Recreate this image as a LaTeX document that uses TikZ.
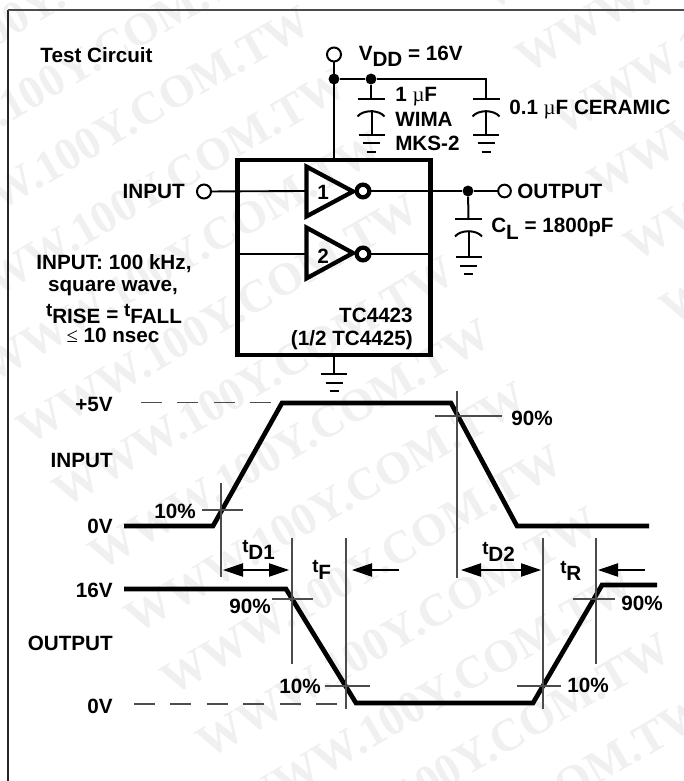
\documentclass[tikz,border=0pt]{standalone}
\usepackage{fontspec}
\setmainfont{Liberation Sans}
\newfontfamily\mufont{Liberation Serif}
\newfontfamily\wmfont{Liberation Serif}[BoldFont={Liberation Serif Bold}]
\usetikzlibrary{arrows.meta}
\newcommand{\smt}{\raisebox{5pt}{\fontsize{14pt}{16pt}\selectfont t}}
\newcommand{\upb}[1]{\raisebox{4.8pt}{#1}}
\tikzset{
  x=0.75pt,y=-0.75pt,
  txt/.style={inner sep=0pt,font=\fontsize{15.5pt}{17pt}\selectfont\bfseries,text=black},
  wire/.style={line width=1.5pt,black},
  thinwire/.style={line width=1.4pt,black},
  trace/.style={line width=3.5pt,black,line join=miter,line cap=butt},
  chipbox/.style={draw=black,line width=3.4pt,fill=none,minimum width=144.4pt,minimum height=146.2pt,inner sep=0pt,outer sep=0pt},
  invtri/.style={line width=3.2pt,black,line join=miter,miter limit=10},
  bubble/.style={circle,draw=black,line width=3.2pt,fill=white,minimum size=9.5pt,inner sep=0pt,outer sep=0pt},
  term/.style={circle,draw=black,line width=1.5pt,fill=white,minimum size=10.5pt,inner sep=0pt,outer sep=0pt},
  termsm/.style={term,minimum size=9.5pt},
  jn/.style={circle,fill=black,minimum size=8.2pt,inner sep=0pt},
  refln/.style={line width=0.8pt,black!70},
  dashln/.style={line width=0.8pt,black!70,dash pattern=on 15.75pt off 11.6pt},
  dimboth/.style={line width=0.8pt,black,{Triangle[length=15pt,width=10pt]}-{Triangle[length=15pt,width=10pt]}},
  dimone/.style={line width=0.8pt,black,-{Triangle[length=15pt,width=10pt]}},
  wmark/.style={inner sep=0pt,anchor=base west,rotate=30,text=black!6,font=\wmfont\fontsize{34.5pt}{36pt}\selectfont\bfseries},
  pics/capsym/.style={code={
    \draw[wire] (-13.5,0) -- (13.5,0);
    \draw[wire] (-13.5,17.5) .. controls (-8,10.5) and (8,10.5) .. (13.5,17.5);
  }},
  pics/gndsym/.style={code={
    \draw[wire] (-13,0) -- (13,0);
    \draw[wire] (-8.5,8.5) -- (8.5,8.5);
    \draw[line width=2.2pt] (-4.5,17) -- (4.5,17);
  }},
}
\begin{document}
\begin{tikzpicture}
\useasboundingbox (0,0) rectangle (684,781);
% watermark
\begin{scope}
\clip (0,0) rectangle (684,781);
\foreach \k in {-2,...,12}{
  \node[wmark,name=wma\k] at ({-80+36*\k},{258+62.7*\k}) {WWW.100Y.COM.TW};
}
\foreach \k in {1,...,6}{
  \node[wmark,name=wmb\k] at ({455+36*\k},{-51+62.7*\k}) {WWW.100Y.COM.TW};
}
\end{scope}
% frame
\coordinate (frameA) at (8,781);
\coordinate (frameB) at (8,10);
\coordinate (frameC) at (684,10);
\draw[line width=1pt,black!85] (frameA) -- (frameB);
\draw[line width=1.5pt,black!70] (frameB) -- (frameC);

% chip and inverters
\node[chipbox] (chip) at (334,257.5) {};
\coordinate (t1a) at (306.5,166.6); \coordinate (t1b) at (353,191.5); \coordinate (t1c) at (306.5,216.4);
\coordinate (t2a) at (306.5,227.6); \coordinate (t2b) at (353,253); \coordinate (t2c) at (306.5,278.4);
\coordinate (in1) at (306.5,191); \coordinate (in2) at (306.5,254);
\draw[invtri] (t1a) -- (t1b) -- (t1c) -- cycle;
\draw[invtri] (t2a) -- (t2b) -- (t2c) -- cycle;
\node[bubble] (b1) at (363,191) {};
\node[bubble] (b2) at (363,254) {};
\node[txt] (n1) at (323,192) {1};
\node[txt] (n2) at (323,256) {2};

% terminals
\node[term] (vdd) at (334,54.5) {};
\node[term] (input) at (204,191.5) {};
\node[termsm] (output) at (504.5,191) {};
\node[jn] (j1) at (334,79) {};
\node[jn] (j2) at (371,79) {};
\node[jn] (j3) at (468,191) {};
\coordinate (c2top) at (486,79);
\coordinate (c1p) at (371,99); \coordinate (c2p) at (486,99); \coordinate (c3p) at (468.5,219);
\coordinate (c1s) at (371.5,110.5); \coordinate (c2s) at (486,110.5); \coordinate (c3s) at (468.5,230.5);
\coordinate (g1) at (371.5,135); \coordinate (g2) at (486,135); \coordinate (g3) at (468.5,257);
\coordinate (g4) at (334,374);

\draw[wire] (vdd) -- (chip.north -| vdd);
\draw[wire] (j1) -- (j2) -- (c2top) -- (c2p);
\draw[wire] (j2) -- (c1p);
\draw[wire] (c1s) -- (g1);
\draw[wire] (c2s) -- (g2);
\draw[wire] (j3) -- (c3p);
\draw[wire] (c3s) -- (g3);
\draw[wire] (chip.south -| g4) -- (g4);
\pic (cap1) at (c1p) {capsym};
\pic (cap2) at (c2p) {capsym};
\pic (cap3) at (c3p) {capsym};
\pic (gnd1) at (g1) {gndsym};
\pic (gnd2) at (g2) {gndsym};
\pic (gnd3) at (g3) {gndsym};
\pic (gnd4) at (g4) {gndsym};
\draw[thinwire] (input) -- (in1);
\draw[thinwire] (b1) -- (j3) -- (output);
\draw[thinwire] (chip.west |- in2) -- (in2);
\draw[thinwire] (b2) -- (chip.east |- b2);

% circuit labels
\node[txt] (ltest) at (96.5,55) {Test Circuit};
\node[txt,anchor=base west] (lvdd) at (358.5,66.7) {\upb{V}DD\upb{ = 16V}};
\node[txt,anchor=west] (lc1a) at (395,97) {1 {\mufont\mdseries µ}F};
\node[txt,anchor=west] (lc1b) at (395,119) {WIMA};
\node[txt,anchor=west] (lc1c) at (395,143) {MKS-2};
\node[txt,anchor=west] (lc2) at (509,109) {0.1 {\mufont\mdseries µ}F CERAMIC};
\node[txt,anchor=east] (linput) at (185,191) {INPUT};
\node[txt,anchor=west] (loutput) at (517,191) {OUTPUT};
\node[txt,anchor=base west] (lcl) at (491,239) {\upb{C}L\upb{ = 1800pF}};
\node[txt] (li1) at (114,264) {INPUT: 100 kHz,};
\node[txt] (li2) at (113,288) {square wave,};
\node[txt,anchor=base] (li3) at (114,323) {\smt RISE \raisebox{1pt}{=} \smt FALL};
\node[txt] (li4) at (113,335) {{\mufont\mdseries ≤} 10 nsec};
\node[txt,anchor=base east] (lchipa) at (413,322) {TC4423};
\node[txt,anchor=base east] (lchipb) at (413,345) {(1/2 TC4425)};

% waveforms
\coordinate (ia) at (124,526); \coordinate (ib) at (213,526); \coordinate (ic) at (282,403);
\coordinate (id) at (451,403); \coordinate (ie) at (517,526); \coordinate (if) at (649,526);
\coordinate (oa) at (124,589); \coordinate (ob) at (286,589); \coordinate (oc) at (356,703);
\coordinate (od) at (533,703); \coordinate (oe) at (602,585); \coordinate (of) at (657,585);
\draw[trace] (ia) -- (ib) -- (ic) -- (id) -- (ie) -- (if);
\draw[trace] (oa) -- (ob) -- (oc) -- (od) -- (oe) -- (of);
\coordinate (di1) at (141,402.5); \coordinate (di2) at (273,402.5);
\coordinate (do1) at (134,704); \coordinate (do2) at (338,704);
\draw[dashln] (di1) -- (di2);
\draw[dashln] (do1) -- (do2);

% reference lines
\coordinate (v1a) at (221,483); \coordinate (v1b) at (221,577);
\coordinate (v2a) at (292,538); \coordinate (v2b) at (292,664);
\coordinate (v3a) at (346,538); \coordinate (v3b) at (346,709);
\coordinate (v4a) at (457,391); \coordinate (v4b) at (457,578);
\coordinate (v5a) at (543,538); \coordinate (v5b) at (543,709);
\coordinate (v6a) at (596,538); \coordinate (v6b) at (596,664);
\draw[refln] (v1a) -- (v1b);
\draw[refln] (v2a) -- (v2b);
\draw[refln] (v3a) -- (v3b);
\draw[refln] (v4a) -- (v4b);
\draw[refln] (v5a) -- (v5b);
\draw[refln] (v6a) -- (v6b);
\coordinate (h1a) at (202,510); \coordinate (h1b) at (243,510);
\coordinate (h2a) at (435,416); \coordinate (h2b) at (502,416);
\coordinate (h3a) at (272,599); \coordinate (h3b) at (313,599);
\coordinate (h4a) at (325,686); \coordinate (h4b) at (370,686);
\coordinate (h5a) at (517,686); \coordinate (h5b) at (561,686);
\coordinate (h6a) at (573,599); \coordinate (h6b) at (615,599);
\draw[refln] (h1a) -- (h1b);
\draw[refln] (h2a) -- (h2b);
\draw[refln] (h3a) -- (h3b);
\draw[refln] (h4a) -- (h4b);
\draw[refln] (h5a) -- (h5b);
\draw[refln] (h6a) -- (h6b);

% timing arrows
\coordinate (a1a) at (223,570); \coordinate (a1b) at (289,570);
\coordinate (a2a) at (399,570); \coordinate (a2b) at (352,570);
\coordinate (a3a) at (461,570); \coordinate (a3b) at (541,570);
\coordinate (a4a) at (645,570); \coordinate (a4b) at (598,570);
\draw[dimboth] (a1a) -- (a1b);
\draw[dimone] (a2a) -- (a2b);
\draw[dimboth] (a3a) -- (a3b);
\draw[dimone] (a4a) -- (a4b);

% waveform labels
\node[txt,anchor=east] (lp5) at (113,404) {+5V};
\node[txt,anchor=east] (lin) at (113,460) {INPUT};
\node[txt,anchor=east] (l0a) at (113,526) {0V};
\node[txt,anchor=east] (l16) at (113,590) {16V};
\node[txt,anchor=east] (lout) at (113,643) {OUTPUT};
\node[txt,anchor=east] (l0b) at (113,706) {0V};
\node[txt] (p1) at (175,511) {10\%};
\node[txt] (p2) at (532,418) {90\%};
\node[txt] (p3) at (250,606) {90\%};
\node[txt] (p4) at (300,686) {10\%};
\node[txt] (p5) at (588,685) {10\%};
\node[txt] (p6) at (642,603) {90\%};
\node[txt,anchor=base west] (td1) at (242,559) {\smt D1};
\node[txt,anchor=base west] (td2) at (482,561) {\smt D2};
\node[txt,anchor=base west] (tf) at (312,579) {\smt F};
\node[txt,anchor=base west] (tr) at (560,580) {\smt R};
\end{tikzpicture}
\end{document}
